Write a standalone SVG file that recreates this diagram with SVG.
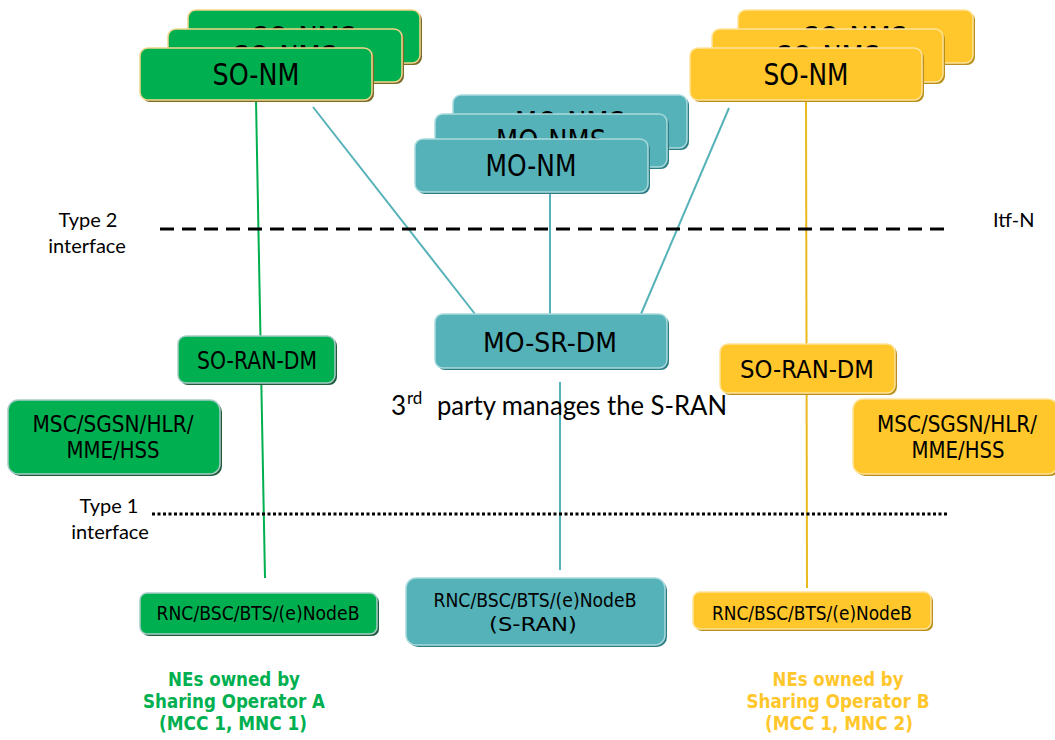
<svg xmlns="http://www.w3.org/2000/svg" width="1055" height="740" viewBox="0 0 1055 740">
  <style>
    .lbl { font-family: "DejaVu Sans", Verdana, sans-serif; fill: #000; text-anchor: middle; }
    .note { font-family: Lato, "Liberation Sans", sans-serif; fill: #000; }
    .own { font-family: "DejaVu Sans", Verdana, sans-serif; font-weight: bold; font-size: 19px; text-anchor: middle; }
    .g { fill: #00B050; }
    .gs { fill: #00B050; stroke: #A9CBC9; stroke-width: 1.5; }
    .gso { fill: #00B050; stroke: #F3D58A; stroke-width: 1.5; }
    .gsh { fill: #1F5A3A; }
    .gsho { fill: #7A6A2A; }
    .y { fill: #FFC72C; }
    .ys { fill: #FFC72C; stroke: #FFE49A; stroke-width: 1.5; }
    .ysh { fill: #B98F1A; }
    .t { fill: #55B2B8; stroke: #A9DADD; stroke-width: 1.5; }
    .tsh { fill: #2F7D84; }
    .ln { fill: none; stroke-width: 2; }
  </style>

  <!-- connectors and interface boundaries -->
  <g id="connectors">
    <path class="ln" d="M256,100 L265,578" stroke="#00B050"/>
    <path class="ln" d="M806,100 L807,588" stroke="#E9B91E"/>
    <path class="ln" d="M313,107 L475,314" stroke="#55B2B8"/>
    <path class="ln" d="M729,108 L641,314" stroke="#55B2B8"/>
    <path class="ln" d="M550,192 L550,314" stroke="#55B2B8"/>
    <path class="ln" d="M560,382 L560,570" stroke="#55B2B8"/>
    <path d="M160,229 L950,229" stroke="#000" stroke-width="3" stroke-dasharray="14 8" fill="none"/>
    <path d="M152,514 L947,514" stroke="#000" stroke-width="3" stroke-dasharray="3 2.5" fill="none"/>
  </g>

  <!-- Sharing Operator A network managers -->
  <g id="so-nm-a">
    <rect class="gsho" x="190" y="12" width="232" height="53" rx="8"/>
    <rect class="gso" x="188" y="10" width="232" height="53" rx="8"/>
    <text class="lbl" x="304" y="48" font-size="30" textLength="104" lengthAdjust="spacingAndGlyphs">SO-NMS</text>
    <rect class="gsho" x="170" y="31" width="234" height="53" rx="8"/>
    <rect class="gso" x="168" y="29" width="234" height="53" rx="8"/>
    <text class="lbl" x="285" y="67" font-size="30" textLength="104" lengthAdjust="spacingAndGlyphs">SO-NMS</text>
    <rect class="gsho" x="142" y="50" width="232" height="52" rx="8"/>
    <rect class="gso" x="140" y="48" width="232" height="52" rx="8"/>
    <text class="lbl" x="256" y="85" font-size="30" textLength="87" lengthAdjust="spacingAndGlyphs">SO-NM</text>
  </g>

  <!-- Sharing Operator B network managers -->
  <g id="so-nm-b">
    <rect class="ysh" x="740" y="12" width="235" height="53" rx="8"/>
    <rect class="ys" x="738" y="10" width="235" height="53" rx="8"/>
    <text class="lbl" x="855" y="48" font-size="30" textLength="104" lengthAdjust="spacingAndGlyphs">SO-NMS</text>
    <rect class="ysh" x="714" y="31" width="231" height="53" rx="8"/>
    <rect class="ys" x="712" y="29" width="231" height="53" rx="8"/>
    <text class="lbl" x="828" y="67" font-size="30" textLength="104" lengthAdjust="spacingAndGlyphs">SO-NMS</text>
    <rect class="ysh" x="692" y="50" width="232" height="52" rx="8"/>
    <rect class="ys" x="690" y="48" width="232" height="52" rx="8"/>
    <text class="lbl" x="806" y="85" font-size="30" textLength="85" lengthAdjust="spacingAndGlyphs">SO-NM</text>
  </g>

  <!-- Master Operator network managers -->
  <g id="mo-nm">
    <rect class="tsh" x="455" y="97" width="234" height="53" rx="8"/>
    <rect class="t" x="453" y="95" width="234" height="53" rx="8"/>
    <text class="lbl" x="570" y="133" font-size="30" textLength="110" lengthAdjust="spacingAndGlyphs">MO-NMS</text>
    <rect class="tsh" x="437" y="116" width="232" height="53" rx="8"/>
    <rect class="t" x="435" y="114" width="232" height="53" rx="8"/>
    <text class="lbl" x="551" y="151" font-size="30" textLength="110" lengthAdjust="spacingAndGlyphs">MO-NMS</text>
    <rect class="tsh" x="417" y="141" width="233" height="53" rx="8"/>
    <rect class="t" x="415" y="139" width="233" height="53" rx="8"/>
    <text class="lbl" x="531" y="176" font-size="30" textLength="91" lengthAdjust="spacingAndGlyphs">MO-NM</text>
  </g>

  <g id="mo-sr-dm">
    <rect class="tsh" x="437" y="316" width="232" height="54" rx="8"/>
    <rect class="t" x="435" y="314" width="232" height="54" rx="8"/>
    <text class="lbl" x="550" y="352" font-size="27" textLength="134" lengthAdjust="spacingAndGlyphs">MO-SR-DM</text>
  </g>

  <g id="so-ran-dm-a">
    <rect class="gsh" x="180" y="338" width="157" height="47" rx="8"/>
    <rect class="gs" x="178" y="336" width="157" height="47" rx="8"/>
    <text class="lbl" x="257" y="369" font-size="24" textLength="120" lengthAdjust="spacingAndGlyphs">SO-RAN-DM</text>
  </g>

  <g id="so-ran-dm-b">
    <rect class="ysh" x="722" y="346" width="175" height="49" rx="8"/>
    <rect class="ys" x="720" y="344" width="175" height="49" rx="8"/>
    <text class="lbl" x="807" y="378" font-size="25" textLength="134" lengthAdjust="spacingAndGlyphs">SO-RAN-DM</text>
  </g>

  <g id="core-a">
    <rect class="gsh" x="10" y="402" width="212" height="74" rx="10"/>
    <rect class="gs" x="8" y="400" width="212" height="74" rx="10"/>
    <text class="lbl" x="113" y="432" font-size="23" textLength="161" lengthAdjust="spacingAndGlyphs">MSC/SGSN/HLR/</text>
    <text class="lbl" x="113" y="458" font-size="23" textLength="93" lengthAdjust="spacingAndGlyphs">MME/HSS</text>
  </g>

  <g id="core-b">
    <rect class="ysh" x="855" y="401" width="205" height="75" rx="10"/>
    <rect class="ys" x="853" y="399" width="205" height="75" rx="10"/>
    <text class="lbl" x="957" y="432" font-size="23" textLength="160" lengthAdjust="spacingAndGlyphs">MSC/SGSN/HLR/</text>
    <text class="lbl" x="958" y="458" font-size="23" textLength="93" lengthAdjust="spacingAndGlyphs">MME/HSS</text>
  </g>

  <g id="ran-a">
    <rect class="gsh" x="142" y="595" width="237" height="41" rx="7"/>
    <rect class="gs" x="140" y="593" width="237" height="41" rx="7"/>
    <text class="lbl" x="258" y="620" font-size="19" textLength="203" lengthAdjust="spacingAndGlyphs">RNC/BSC/BTS/(e)NodeB</text>
  </g>

  <g id="ran-shared">
    <rect class="tsh" x="408" y="580" width="259" height="67" rx="10"/>
    <rect class="t" x="406" y="578" width="259" height="67" rx="10"/>
    <text class="lbl" x="535" y="607" font-size="19" textLength="203" lengthAdjust="spacingAndGlyphs">RNC/BSC/BTS/(e)NodeB</text>
    <text class="lbl" x="533" y="631" font-size="19" textLength="88" lengthAdjust="spacingAndGlyphs">(S-RAN)</text>
  </g>

  <g id="ran-b">
    <rect class="ysh" x="695" y="594" width="238" height="37" rx="7"/>
    <rect class="ys" x="693" y="592" width="238" height="37" rx="7"/>
    <text class="lbl" x="812" y="620" font-size="19" textLength="200" lengthAdjust="spacingAndGlyphs">RNC/BSC/BTS/(e)NodeB</text>
  </g>

  <!-- interface and ownership annotations -->
  <g id="annotations">
    <text class="note" x="88" y="227" font-size="20" text-anchor="middle">Type 2</text>
    <text class="note" x="87" y="253" font-size="20" text-anchor="middle">interface</text>
    <text class="note" x="993" y="227" font-size="20">Itf-N</text>
    <text class="note" x="109" y="513" font-size="20" text-anchor="middle">Type 1</text>
    <text class="note" x="110" y="539" font-size="20" text-anchor="middle">interface</text>
    <text class="note" font-size="26"><tspan x="391" y="415">3</tspan><tspan x="407" y="404" font-size="17">rd</tspan><tspan x="437" y="415" textLength="290" lengthAdjust="spacingAndGlyphs">party manages the S-RAN</tspan></text>

    <text class="own g" x="234" y="686" textLength="132" lengthAdjust="spacingAndGlyphs">NEs owned by</text>
    <text class="own g" x="234" y="708" textLength="182" lengthAdjust="spacingAndGlyphs">Sharing Operator A</text>
    <text class="own g" x="233" y="730" textLength="148" lengthAdjust="spacingAndGlyphs">(MCC 1, MNC 1)</text>
    <text class="own y" x="838" y="686" textLength="131" lengthAdjust="spacingAndGlyphs">NEs owned by</text>
    <text class="own y" x="838" y="708" textLength="183" lengthAdjust="spacingAndGlyphs">Sharing Operator B</text>
    <text class="own y" x="839" y="730" textLength="148" lengthAdjust="spacingAndGlyphs">(MCC 1, MNC 2)</text>
  </g>
</svg>
